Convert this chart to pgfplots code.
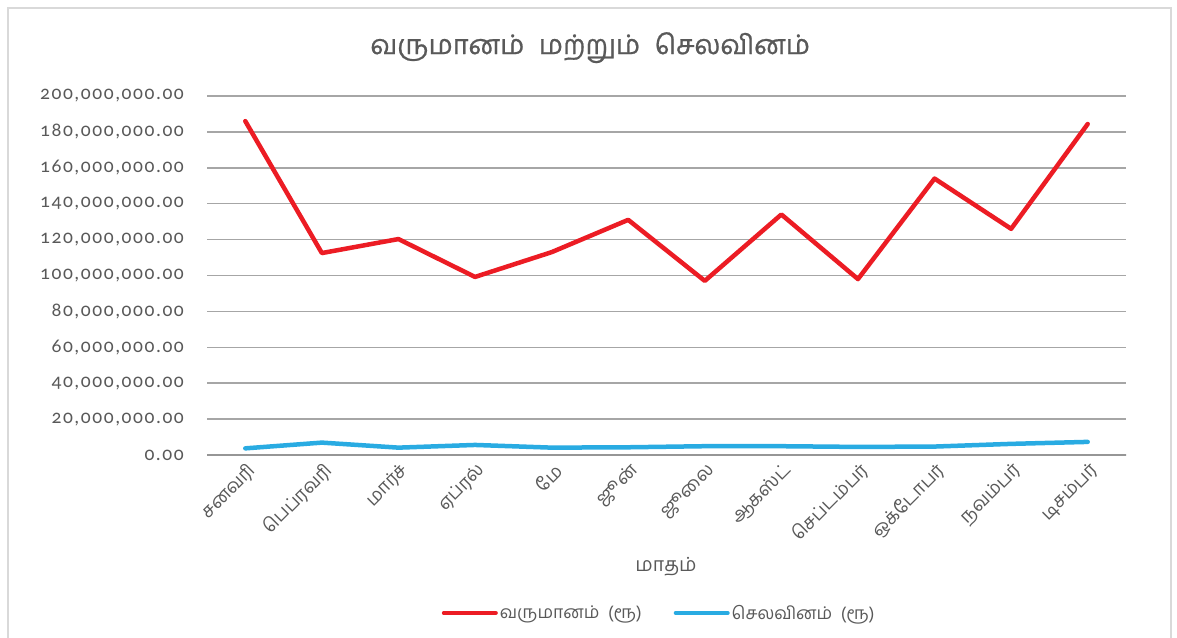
\documentclass[border=0pt]{standalone}
\usepackage{fontspec}
\setmainfont[Script=Tamil]{Hind Madurai}
\newfontfamily\titlefont[Script=Tamil, FakeBold=0.8, WordSpace=2.2]{Hind Madurai}
\newfontfamily\numfont[Numbers=OldStyle, LetterSpace=8]{Carlito}
\usepackage{pgfplots}
\pgfplotsset{compat=1.18}
\definecolor{txtc}{HTML}{595959}
\definecolor{gridc}{HTML}{A6A6A6}
\definecolor{zeroc}{HTML}{969696}
\definecolor{cRev}{HTML}{EC1C24}
\definecolor{cExp}{HTML}{29ABE2}
\begin{document}
\begin{tikzpicture}[x=1pt,y=1pt]
\useasboundingbox (0,0) rectangle (1177,637);
\fill[white] (0,0) rectangle (1177,637);
\draw[draw=black!15, line width=1.2pt] (8,-10) rectangle (1171,629);
\begin{axis}[
  at={(207pt,182pt)}, anchor=south west, scale only axis,
  width=919pt, height=359pt,
  xmin=-0.5, xmax=11.5, ymin=0, ymax=200000000,
  axis line style={draw=none}, tick style={draw=none},
  ytick distance=20000000, scaled y ticks=false,
  ymajorgrids, grid style={gridc, line width=1.5pt},
  xtick={0,...,11},
  xticklabels={சனவரி,பெப்ரவரி,மார்ச்,ஏப்ரல்,மே,ஜூன்,ஜூலை,ஆகஸ்ட்,செப்டம்பர்,ஒக்டோபர்,நவம்பர்,டிசம்பர்},
  xticklabel style={rotate=45, anchor=east, inner sep=0pt, yshift=-14pt, xshift=-4pt, text=txtc, font=\fontsize{18.5}{18.5}\selectfont},
  yticklabel style={anchor=east, inner sep=0pt, xshift=-23pt, text=txtc, font=\numfont\fontsize{19.5}{19.5}\selectfont,
    /pgf/number format/.cd, fixed, fixed zerofill, precision=2, 1000 sep={,}, assume math mode=true},
  title={வருமானம் மற்றும் செலவினம்},
  title style={at={(axis description cs:0.417,1.118)}, anchor=center, text=txtc, font=\titlefont\fontsize{27}{27}\selectfont},
  xlabel={மாதம்},
  xlabel style={at={(axis description cs:0.4995,-0.312)}, anchor=center, text=txtc, font=\fontsize{19.5}{19.5}\selectfont},
  legend columns=2,
  legend style={at={(0.492,-0.44)}, anchor=center, draw=none, fill=none, text=txtc,
    font=\fontsize{17.5}{17.5}\selectfont, /tikz/every even column/.append style={column sep=30pt}},
  legend image code/.code={\draw[#1, line width=4pt, line cap=round] (0pt,0pt) -- (52pt,0pt);},
]
\draw[zeroc, line width=3pt] (axis cs:-0.52,0) -- (axis cs:11.52,0);
\addplot[cRev, line width=4.5pt, line join=round, line cap=round] coordinates {
(0,186000000) (1,112500000) (2,120300000) (3,99200000) (4,113000000) (5,131000000)
(6,97000000) (7,134000000) (8,98000000) (9,154000000) (10,126000000) (11,184400000)};
\addlegendentry{வருமானம்~~(ரூ)}
\addplot[cExp, line width=4.5pt, line join=round, line cap=round] coordinates {
(0,3700000) (1,6900000) (2,4100000) (3,5600000) (4,4100000) (5,4300000)
(6,4900000) (7,4900000) (8,4500000) (9,4700000) (10,6200000) (11,7300000)};
\addlegendentry{செலவினம்~~(ரூ)}
\end{axis}
\end{tikzpicture}
\end{document}
